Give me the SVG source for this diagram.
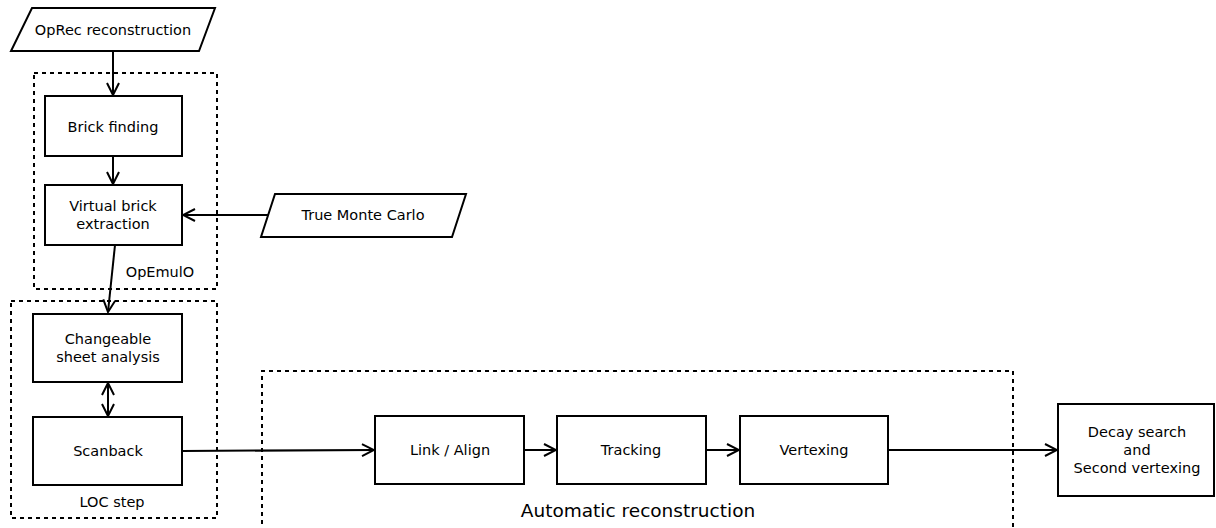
<svg xmlns="http://www.w3.org/2000/svg" width="1216" height="528" viewBox="0 0 1216 528">
<defs>
<marker id="arr" viewBox="0 0 14 14" refX="13" refY="7" markerWidth="14" markerHeight="14" markerUnits="userSpaceOnUse" orient="auto-start-reverse">
<path d="M1,1 L13,7 L1,13" fill="none" stroke="#000" stroke-width="2"/>
</marker>
</defs>
<style>
.box{fill:#fff;stroke:#000;stroke-width:2}
.grp{fill:none;stroke:#000;stroke-width:2;stroke-dasharray:4,4}
.t{font-family:"DejaVu Sans",sans-serif;font-size:14.5px;fill:#000;text-anchor:middle}
.big{font-family:"DejaVu Sans",sans-serif;font-size:18.5px;fill:#000;text-anchor:middle}
.c{fill:none;stroke:#000;stroke-width:2;marker-end:url(#arr)}
</style>
<rect width="1216" height="528" fill="#fff"/>
<g id="grp-opemulo"><rect class="grp" x="34" y="73" width="183" height="216"/><text class="t" x="160" y="277">OpEmulO</text></g>
<g id="grp-loc"><rect class="grp" x="11" y="301" width="206" height="217"/><text class="t" x="112" y="507">LOC step</text></g>
<g id="grp-auto"><path class="grp" d="M262,540 L262,371 L1013,371 L1013,540"/><text class="big" x="638" y="517">Automatic reconstruction</text></g>
<g id="connectors">
<path class="c" d="M113,51 L113,95"/>
<path class="c" d="M113,156 L113,184"/>
<path class="c" d="M268,215 L183,215"/>
<path class="c" d="M115,245 L108,312"/>
<path class="c" d="M108,383 L108,416" style="marker-start:url(#arr)"/>
<path class="c" d="M182,451 L374,450"/>
<path class="c" d="M524,450 L556,450"/>
<path class="c" d="M706,450 L739,450"/>
<path class="c" d="M888,450 L1057,450"/>
</g>
<g id="n-oprec"><polygon class="box" points="32,8 215,8 199,51 11,51"/><text class="t" x="113" y="35">OpRec reconstruction</text></g>
<g id="n-brick"><rect class="box" x="45" y="96" width="137" height="60"/><text class="t" x="113" y="132">Brick finding</text></g>
<g id="n-virtual"><rect class="box" x="45" y="185" width="137" height="60"/><text class="t" x="113" y="211">Virtual brick</text><text class="t" x="113" y="229">extraction</text></g>
<g id="n-mc"><polygon class="box" points="275,194 466,194 452,237 261,237"/><text class="t" x="363" y="220">True Monte Carlo</text></g>
<g id="n-change"><rect class="box" x="33" y="314" width="149" height="68"/><text class="t" x="108" y="344">Changeable</text><text class="t" x="108" y="362">sheet analysis</text></g>
<g id="n-scan"><rect class="box" x="33" y="417" width="149" height="68"/><text class="t" x="108" y="456">Scanback</text></g>
<g id="n-link"><rect class="box" x="375" y="416" width="149" height="68"/><text class="t" x="450" y="455">Link / Align</text></g>
<g id="n-track"><rect class="box" x="557" y="416" width="149" height="68"/><text class="t" x="631" y="455">Tracking</text></g>
<g id="n-vert"><rect class="box" x="740" y="416" width="148" height="68"/><text class="t" x="814" y="455">Vertexing</text></g>
<g id="n-decay"><rect class="box" x="1058" y="404" width="156" height="92"/><text class="t" x="1137" y="437">Decay search</text><text class="t" x="1137" y="455">and</text><text class="t" x="1137" y="473">Second vertexing</text></g>
</svg>
